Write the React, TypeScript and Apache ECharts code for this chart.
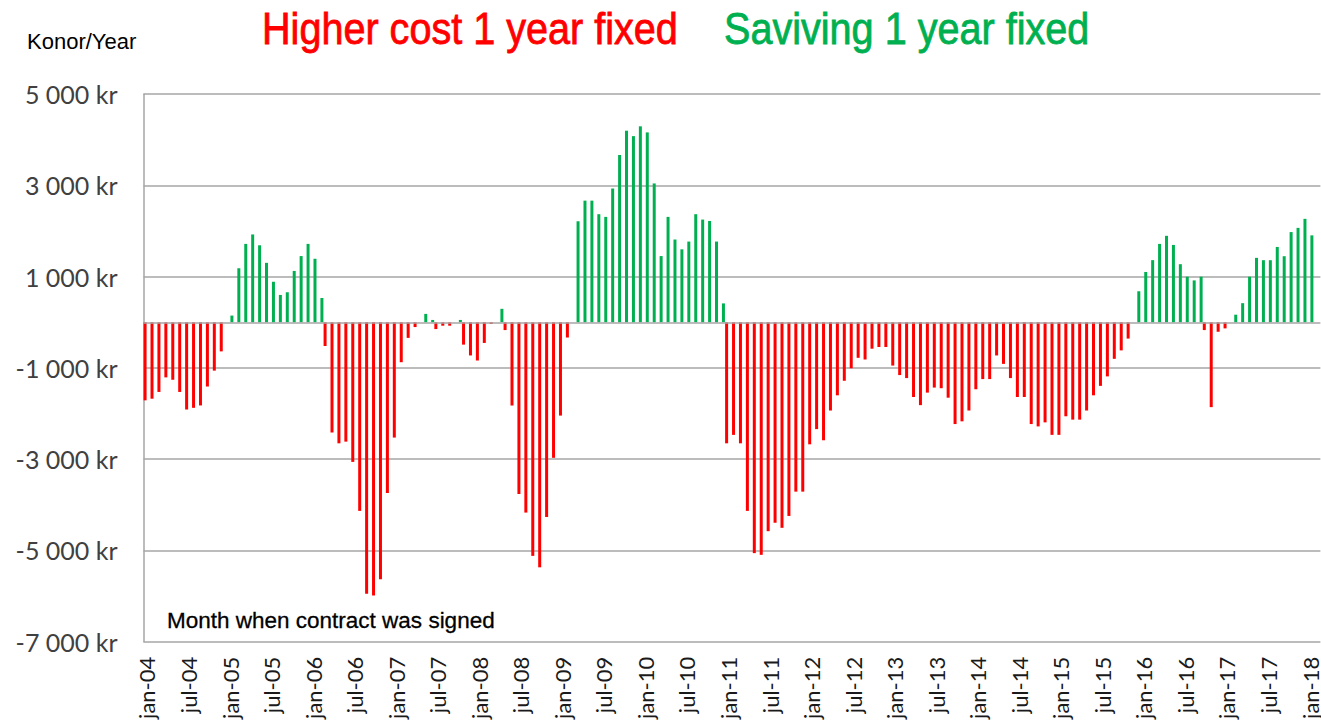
import React, { useEffect, useRef } from "react";
import * as echarts from "echarts";

// Month abbreviations (Norwegian) and years shown on the category axis
const monthNames = ["jan", "feb", "mar", "apr", "mai", "jun", "jul", "aug", "sep", "okt", "nov", "des"];
const years = [4, 5, 6, 7, 8, 9, 10, 11, 12, 13, 14, 15, 16, 17, 18];

// Monthly cost difference (kr per year), one array per year
const v2004 = [-1710, -1674, -1526, -1207, -1259, -1526, -1911, -1874, -1822, -1407, -1059, -637];
const v2005 = [148, 1185, 1719, 1926, 1689, 1304, 889, 600, 659, 1126, 1452, 1719];
const v2006 = [1393, 533, -519, -2415, -2652, -2615, -3059, -4133, -5948, -5985, -5630, -3741];
const v2007 = [-2526, -874, -341, -104, 185, 52, -148, -74, -74, 52, -489, -726];
const v2008 = [-837, -452, -37, 296, -170, -1822, -3763, -4170, -5119, -5370, -4267, -2970];
const v2009 = [-2044, -333, 2215, 2667, 2667, 2370, 2311, 2933, 3667, 4200, 4081, 4296];
const v2010 = [4163, 3044, 1452, 2311, 1815, 1600, 1770, 2370, 2252, 2222, 1770, 415];
const v2011 = [-2652, -2467, -2652, -4133, -5059, -5096, -4578, -4393, -4504, -4244, -3711, -3711];
const v2012 = [-2674, -2341, -2585, -1933, -1600, -1281, -1007, -778, -815, -578, -541, -541];
const v2013 = [-948, -1156, -1222, -1637, -1815, -1541, -1430, -1444, -1652, -2230, -2170, -1933];
const v2014 = [-1467, -1244, -1244, -726, -911, -1222, -1637, -1637, -2230, -2281, -2193, -2467];
const v2015 = [-2467, -2059, -2133, -2133, -1933, -1600, -1393, -1185, -800, -615, -356, 681];
const v2016 = [1104, 1363, 1719, 1896, 1696, 1274, 1000, 919, 1000, -170, -1859, -207];
const v2017 = [-133, 167, 420, 1000, 1413, 1362, 1362, 1652, 1449, 1978, 2070, 2268];
const v2018: (number | null)[] = [1906, null];

const values: (number | null)[] = [
  ...v2004, ...v2005, ...v2006, ...v2007, ...v2008, ...v2009, ...v2010, ...v2011,
  ...v2012, ...v2013, ...v2014, ...v2015, ...v2016, ...v2017, ...v2018,
];

const categories: string[] = [];
years.forEach((y) => {
  monthNames.forEach((m) => {
    categories.push(`${m}-${String(y).padStart(2, "0")}`);
  });
});
categories.length = values.length;

const higherCost = values.map((v) => (v !== null && v < 0 ? v : null));
const saving = values.map((v) => (v !== null && v > 0 ? v : null));

// Value axis ticks
const yMin = -7000;
const yMax = 5000;
const yStep = 2000;

const fmtKr = (v: number) => {
  const abs = Math.abs(v);
  const s = String(abs).replace(/\B(?=(\d{3})+(?!\d))/g, " ");
  return `${v < 0 ? "-" : ""}${s} kr`;
};

const GRID_COLOR = "#a6a6a6";

export default function App() {
  const ref = useRef<HTMLDivElement>(null);

  useEffect(() => {
    if (!ref.current) return;
    const chart = echarts.init(ref.current, null, { renderer: "svg" });
    chart.setOption({
      animation: false,
      backgroundColor: "#ffffff",
      grid: { left: 143.5, right: -3, top: 94.2, bottom: 82.3, containLabel: false },
      xAxis: {
        type: "category",
        data: categories,
        boundaryGap: true,
        axisLine: { show: false },
        axisTick: { show: false },
        splitLine: { show: false },
        axisLabel: {
          interval: 5,
          rotate: 90,
          margin: 15,
          fontSize: 22,
          lineHeight: 18,
          fontFamily: "Lato",
          color: "#1a1a1a",
        },
      },
      yAxis: {
        type: "value",
        min: yMin,
        max: yMax,
        interval: yStep,
        axisLine: { show: true, lineStyle: { color: GRID_COLOR, width: 1.5 } },
        axisTick: { show: false },
        splitLine: { show: true, lineStyle: { color: GRID_COLOR, width: 1.5 } },
        axisLabel: {
          formatter: (v: number) => fmtKr(v),
          fontSize: 25,
          fontFamily: "Lato",
          color: "#404040",
          margin: 26,
        },
      },
      series: [
        {
          type: "bar",
          name: "Higher cost 1 year fixed",
          data: higherCost,
          barWidth: 3,
          barGap: "25%",
          itemStyle: { color: "#ff0000" },
          markLine: {
            silent: true,
            symbol: "none",
            label: { show: false },
            lineStyle: { color: GRID_COLOR, width: 1.5, type: "solid" },
            data: [{ yAxis: 0 }],
          },
        },
        {
          type: "bar",
          name: "Saviving 1 year fixed",
          data: saving,
          barWidth: 3,
          itemStyle: { color: "#00b050" },
        },
      ],
      graphic: [
        {
          type: "text",
          x: 262,
          y: 29,
          scaleX: 0.9,
          style: {
            text: "Higher cost 1 year fixed",
            fill: "#ff0000",
            stroke: "#ff0000",
            lineWidth: 0.8,
            fontSize: 44,
            fontFamily: "Liberation Sans",
            align: "left",
            verticalAlign: "middle",
          },
        },
        {
          type: "text",
          x: 724,
          y: 29,
          scaleX: 0.9,
          style: {
            text: "Saviving 1 year fixed",
            fill: "#00b050",
            stroke: "#00b050",
            lineWidth: 0.8,
            fontSize: 44,
            fontFamily: "Liberation Sans",
            align: "left",
            verticalAlign: "middle",
          },
        },
        {
          type: "text",
          x: 27,
          y: 41,
          style: {
            text: "Konor/Year",
            fill: "#000000",
            fontSize: 22,
            fontFamily: "Liberation Sans",
            align: "left",
            verticalAlign: "middle",
          },
        },
        {
          type: "text",
          x: 167,
          y: 620,
          style: {
            text: "Month when contract was signed",
            fill: "#000000",
            stroke: "#000000",
            lineWidth: 0.3,
            fontSize: 22.5,
            fontFamily: "Liberation Sans",
            align: "left",
            verticalAlign: "middle",
          },
        },
      ],
    });
    return () => chart.dispose();
  }, []);

  return (
    <div
      ref={ref}
      style={{ position: "absolute", left: 0, top: 0, width: 1321, height: 724 }}
    />
  );
}
